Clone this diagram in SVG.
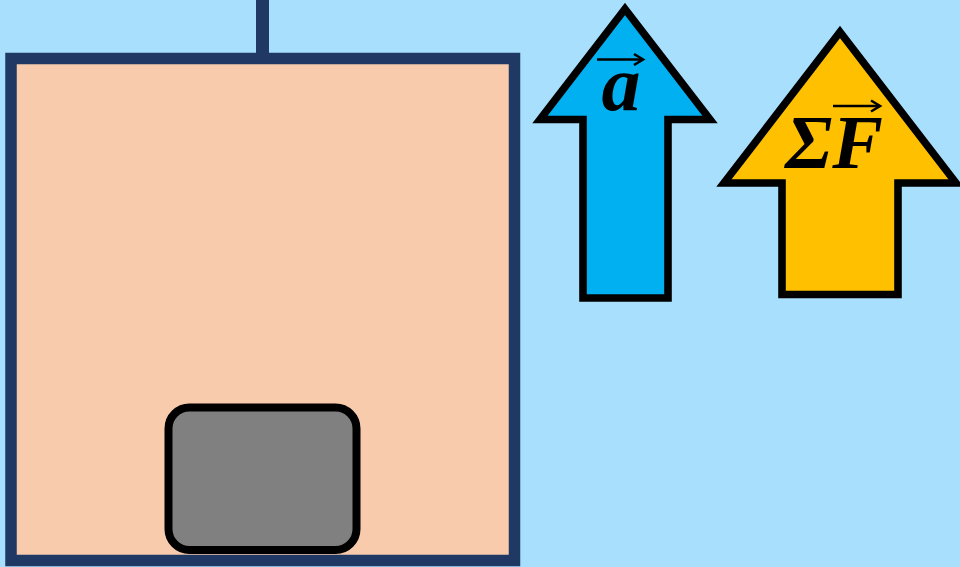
<svg xmlns="http://www.w3.org/2000/svg" width="960" height="567" viewBox="0 0 960 567">
<style>
.arrow{stroke:#000;stroke-width:7.6;stroke-linejoin:miter;stroke-miterlimit:10}
.lbl{font-family:"Liberation Serif","DejaVu Serif",serif;font-weight:bold;font-style:italic;fill:#000}
.acc{stroke:#000;stroke-width:2.6;fill:none;stroke-linecap:butt}
</style>
<rect x="0" y="0" width="960" height="567" fill="#A8DFFD"/>
<g id="rope"><line x1="262.5" y1="0" x2="262.5" y2="60" stroke="#1F3864" stroke-width="13"/></g>
<g id="elevator"><rect x="11" y="58.5" width="503.5" height="502" fill="#F8CBAD" stroke="#1F3864" stroke-width="11.5"/></g>
<g id="mass"><rect x="168.5" y="407.5" width="188" height="142.5" rx="21" ry="21" fill="#808080" stroke="#000" stroke-width="8"/></g>
<g id="accel">
<path class="arrow" d="M625,9 L710,119.5 L668,119.5 L668,298 L583,298 L583,119.5 L540,119.5 Z" fill="#00B0F0"/>
<text class="lbl" x="621" y="110" font-size="78" text-anchor="middle">a</text>
<line class="acc" x1="597" y1="59.5" x2="642" y2="59.5"/>
<path class="acc" d="M634,54 L643,59.5 L634,65"/>
</g>
<g id="force">
<path class="arrow" d="M840,32 L956,183 L898,183 L898,294.5 L782,294.5 L782,183 L724,183 Z" fill="#FFC000"/>
<text class="lbl" x="834" y="168" font-size="76" text-anchor="middle">ΣF</text>
<line class="acc" x1="833" y1="106" x2="879" y2="106"/>
<path class="acc" d="M871,100.5 L880,106 L871,111.5"/>
</g>
</svg>
